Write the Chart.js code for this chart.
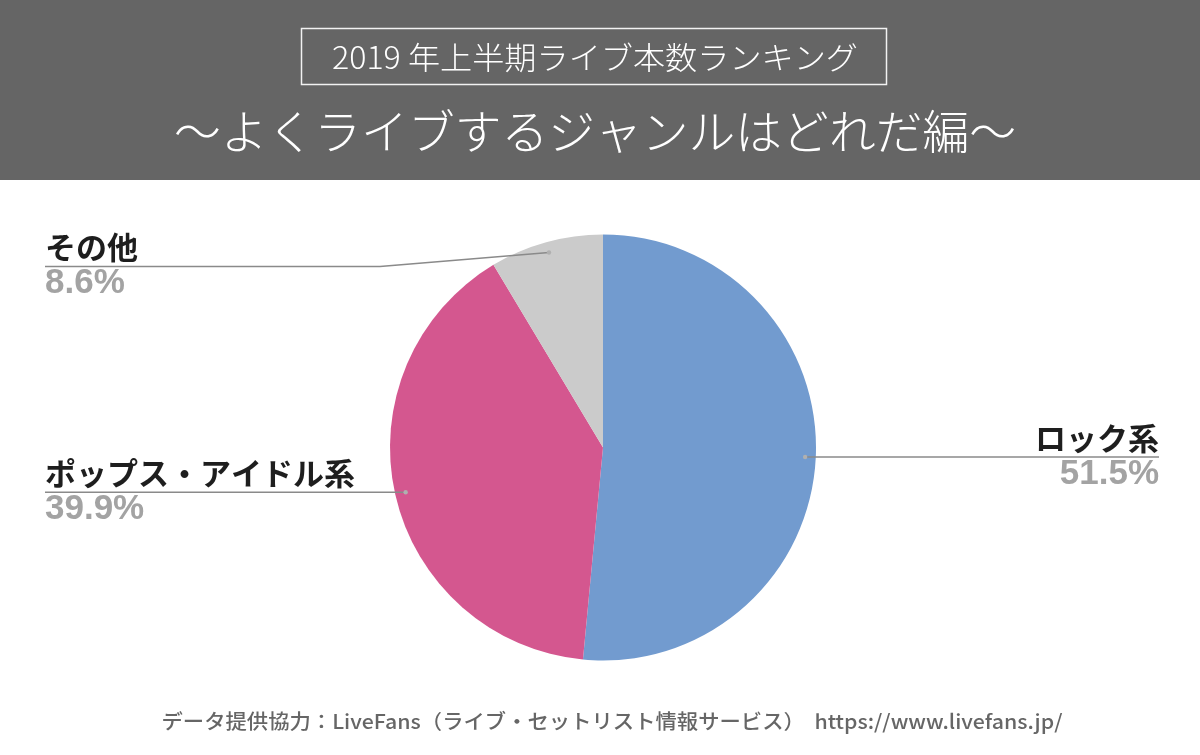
<!DOCTYPE html>
<html>
<head>
<meta charset="utf-8">
<script src="https://cdn.jsdelivr.net/npm/chart.js@4/dist/chart.umd.min.js"></script>
<style>
html,body{margin:0;padding:0;background:#fff;}
#wrap{width:1200px;height:755px;}
</style>
</head>
<body>
<div id="wrap"><canvas id="c" width="1200" height="755"></canvas></div>
<script>
// ---- data ----
const categories = ['ロック系', 'ポップス・アイドル系', 'その他'];
const shares = [51.5, 39.9, 8.6];
const percentLabels = ['51.5%', '39.9%', '8.6%'];
const sliceColors = ['#729bcf', '#d4578f', '#cbcbcb'];
const titleLine1 = '2019 年上半期ライブ本数ランキング';
const titleLine2 = '〜よくライブするジャンルはどれだ編〜';
const footerText = 'データ提供協力：LiveFans（ライブ・セットリスト情報サービス）  https://www.livefans.jp/';

// ---- layout for callouts (positions/styles, not data) ----
const calloutLayout = [
  {side: 'right', endX: 1159, lineDy: 0},
  {side: 'left', endX: 45, lineDy: 0},
  {side: 'left', endX: 45, lineDy: 14, elbowX: 380}
];

const JP = '"Noto Sans CJK JP", "Noto Sans", sans-serif';

function fitText(ctx, text, cx, cy, target) {
  const w = ctx.measureText(text).width;
  ctx.save();
  ctx.translate(cx, cy);
  ctx.scale(target / w, 1);
  ctx.fillText(text, 0, 0);
  ctx.restore();
}

const decor = {
  id: 'decor',
  beforeDraw(chart) {
    const ctx = chart.ctx;
    ctx.save();
    ctx.fillStyle = '#ffffff';
    ctx.fillRect(0, 0, 1200, 755);
    ctx.fillStyle = '#656565';
    ctx.fillRect(0, 0, 1200, 180);
    ctx.strokeStyle = '#f2f2f2';
    ctx.lineWidth = 1.5;
    ctx.strokeRect(301.5, 28.5, 585, 56);
    ctx.fillStyle = '#ffffff';
    ctx.textAlign = 'center';
    ctx.textBaseline = 'middle';
    ctx.font = '300 31px ' + JP;
    fitText(ctx, titleLine1, 595, 57, 526);
    ctx.font = '300 47px ' + JP;
    fitText(ctx, titleLine2, 595, 131, 842);
    // footer
    ctx.font = '500 20px ' + JP;
    ctx.fillStyle = '#666666';
    fitText(ctx, footerText, 612, 721, 901);
    ctx.restore();
  },
  afterDatasetsDraw(chart) {
    const ctx = chart.ctx;
    const meta = chart.getDatasetMeta(0);
    ctx.save();
    meta.data.forEach((arc, i) => {
      const p = arc.getProps(['x', 'y', 'startAngle', 'endAngle', 'outerRadius'], true);
      const mid = (p.startAngle + p.endAngle) / 2;
      const r = p.outerRadius * 0.95;
      const dx = p.x + Math.cos(mid) * r;
      const dy = p.y + Math.sin(mid) * r;
      const L = calloutLayout[i];
      const lineY = dy + L.lineDy;
      ctx.strokeStyle = '#8a8a8a';
      ctx.lineWidth = 1.6;
      ctx.beginPath();
      ctx.moveTo(dx, dy);
      if (L.elbowX !== undefined) ctx.lineTo(L.elbowX, lineY);
      ctx.lineTo(L.endX, lineY);
      ctx.stroke();
      ctx.fillStyle = '#b0b0b0';
      ctx.beginPath();
      ctx.arc(dx, dy, 2.2, 0, Math.PI * 2);
      ctx.fill();
      ctx.textAlign = L.side === 'right' ? 'right' : 'left';
      ctx.textBaseline = 'middle';
      ctx.fillStyle = '#1e1e1e';
      ctx.font = '700 31px ' + JP;
      ctx.fillText(categories[i], L.endX, lineY - 19);
      ctx.fillStyle = '#a3a3a3';
      ctx.font = 'bold 35px "Liberation Sans", Arial, sans-serif';
      ctx.fillText(percentLabels[i], L.endX, lineY + 17);
    });
    ctx.restore();
  }
};

new Chart(document.getElementById('c'), {
  type: 'pie',
  data: {
    labels: categories,
    datasets: [{
      data: shares,
      backgroundColor: sliceColors,
      borderWidth: 0
    }]
  },
  options: {
    responsive: false,
    animation: false,
    layout: {padding: {left: 390, right: 384, top: 234, bottom: 94}},
    plugins: {legend: {display: false}, tooltip: {enabled: false}, title: {display: false}}
  },
  plugins: [decor]
});
</script>
</body>
</html>
